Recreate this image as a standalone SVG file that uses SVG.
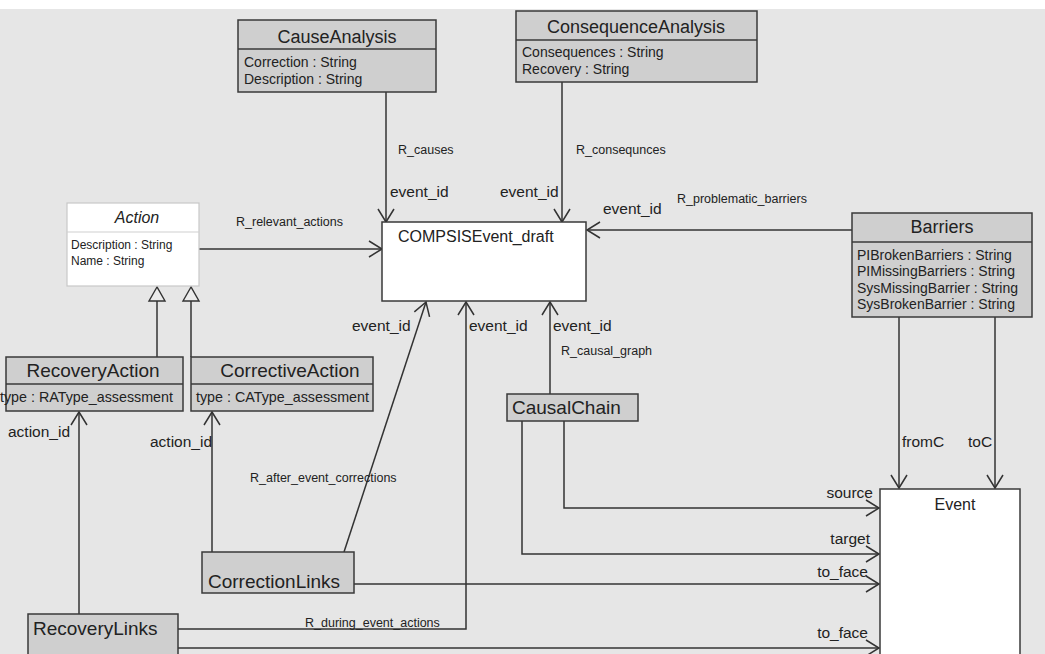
<svg xmlns="http://www.w3.org/2000/svg" width="1045" height="654" viewBox="0 0 1045 654">
  <style>
    .box { fill: #cfcfcf; stroke: #3a3a3a; stroke-width: 1.5; }
    .wbox { fill: #ffffff; stroke: #3a3a3a; stroke-width: 1.5; }
    .abox { fill: #ffffff; stroke: #c8c8c8; stroke-width: 1.2; }
    .sep { stroke: #3a3a3a; stroke-width: 1.5; }
    .asep { stroke: #d0d0d0; stroke-width: 1.2; }
    text { font-family: "Liberation Sans", Arial, sans-serif; fill: #222; }
    .hdr { font-size: 18px; text-anchor: middle; }
    .attr { font-size: 14px; }
    .name { font-size: 19px; }
    .role { font-size: 15.5px; }
    .rel { font-size: 12.5px; }
    .edge { fill: none; stroke: #333; stroke-width: 1.5; }
    .tri { fill: #ececec; stroke: #333; stroke-width: 1.4; }
  </style>
  <defs>
    <marker id="open" markerUnits="userSpaceOnUse" orient="auto" overflow="visible" markerWidth="1" markerHeight="1" refX="0" refY="0">
      <path d="M-13,-8 L0,0 L-13,8" fill="none" stroke="#333" stroke-width="1.5"/>
    </marker>
  </defs>

  <!-- canvas -->
  <rect x="0" y="0" width="1045" height="654" fill="#ffffff"/>
  <rect x="0" y="9" width="1045" height="645" fill="#e6e6e6"/>

  <!-- connectors -->
  <g id="connectors">
    <path class="edge" d="M386,92 V222" marker-end="url(#open)"/>
    <path class="edge" d="M562,82 V222" marker-end="url(#open)"/>
    <path class="edge" d="M852,230 H587" marker-end="url(#open)"/>
    <path class="edge" d="M199,249 H382" marker-end="url(#open)"/>
    <path class="edge" d="M344,552 L426,302" marker-end="url(#open)"/>
    <path class="edge" d="M178,629 H466 V302" marker-end="url(#open)"/>
    <path class="edge" d="M550,394 V302" marker-end="url(#open)"/>
    <path class="edge" d="M157,357 V301"/>
    <path class="edge" d="M191,357 V301"/>
    <polygon class="tri" points="157,287 149,301 165,301"/>
    <polygon class="tri" points="191,287 183,301 199,301"/>
    <path class="edge" d="M79,614 V412" marker-end="url(#open)"/>
    <path class="edge" d="M212,552 V412" marker-end="url(#open)"/>
    <path class="edge" d="M899,317 V488" marker-end="url(#open)"/>
    <path class="edge" d="M995,317 V488" marker-end="url(#open)"/>
    <path class="edge" d="M564,421 V508 H879" marker-end="url(#open)"/>
    <path class="edge" d="M522,421 V554 H879" marker-end="url(#open)"/>
    <path class="edge" d="M354,584 H879" marker-end="url(#open)"/>
    <path class="edge" d="M178,648 H879" marker-end="url(#open)"/>

    <text class="rel" x="398" y="154">R_causes</text>
    <text class="role" x="390" y="197">event_id</text>
    <text class="rel" x="576" y="154">R_consequnces</text>
    <text class="role" x="500" y="197">event_id</text>
    <text class="rel" x="677" y="203">R_problematic_barriers</text>
    <text class="role" x="603" y="214">event_id</text>
    <text class="rel" x="236" y="226">R_relevant_actions</text>
    <text class="role" x="352" y="331">event_id</text>
    <text class="role" x="469" y="331">event_id</text>
    <text class="role" x="553" y="331">event_id</text>
    <text class="rel" x="561" y="355">R_causal_graph</text>
    <text class="role" x="8" y="437">action_id</text>
    <text class="role" x="150" y="447">action_id</text>
    <text class="rel" x="250" y="482">R_after_event_corrections</text>
    <text class="rel" x="305" y="627">R_during_event_actions</text>
    <text class="role" x="902" y="447">fromC</text>
    <text class="role" x="968" y="447">toC</text>
    <text class="role" x="873" y="498" text-anchor="end">source</text>
    <text class="role" x="870" y="544" text-anchor="end">target</text>
    <text class="role" x="868" y="577" text-anchor="end">to_face</text>
    <text class="role" x="868" y="638" text-anchor="end">to_face</text>
  </g>

  <g id="CauseAnalysis">
    <rect class="box" x="238" y="20" width="198" height="72"/>
    <line class="sep" x1="238" y1="49" x2="436" y2="49"/>
    <text class="hdr" x="337" y="43">CauseAnalysis</text>
    <text class="attr" x="244" y="67">Correction : String</text>
    <text class="attr" x="244" y="84">Description : String</text>
  </g>

  <g id="ConsequenceAnalysis">
    <rect class="box" x="516" y="11" width="241" height="71"/>
    <line class="sep" x1="516" y1="40" x2="757" y2="40"/>
    <text class="hdr" x="636" y="33">ConsequenceAnalysis</text>
    <text class="attr" x="522" y="57">Consequences : String</text>
    <text class="attr" x="522" y="74">Recovery : String</text>
  </g>

  <g id="COMPSISEvent_draft">
    <rect class="wbox" x="382" y="222" width="204" height="79"/>
    <text x="398" y="242" font-size="16">COMPSISEvent_draft</text>
  </g>

  <g id="Action">
    <rect class="abox" x="67" y="203" width="132" height="83"/>
    <line class="asep" x1="67" y1="232" x2="199" y2="232"/>
    <text x="137" y="223" font-size="16" font-style="italic" text-anchor="middle">Action</text>
    <text x="71" y="249" font-size="12">Description : String</text>
    <text x="71" y="265" font-size="12">Name : String</text>
  </g>

  <g id="Barriers">
    <rect class="box" x="852" y="213" width="180" height="104"/>
    <line class="sep" x1="852" y1="242" x2="1032" y2="242"/>
    <text class="hdr" x="942" y="233">Barriers</text>
    <text class="attr" x="857" y="260">PIBrokenBarriers : String</text>
    <text class="attr" x="857" y="276">PIMissingBarriers : String</text>
    <text class="attr" x="857" y="293">SysMissingBarrier : String</text>
    <text class="attr" x="857" y="309">SysBrokenBarrier : String</text>
  </g>

  <g id="RecoveryAction">
    <rect class="box" x="6" y="357" width="177" height="54"/>
    <line class="sep" x1="6" y1="384" x2="183" y2="384"/>
    <text class="name" x="93" y="377" text-anchor="middle">RecoveryAction</text>
    <text x="0" y="402" font-size="14.3">type : RAType_assessment</text>
  </g>

  <g id="CorrectiveAction">
    <rect class="box" x="191" y="357" width="182" height="54"/>
    <line class="sep" x1="191" y1="384" x2="373" y2="384"/>
    <text class="name" x="290" y="377" text-anchor="middle">CorrectiveAction</text>
    <text x="196" y="402" font-size="14.3">type : CAType_assessment</text>
  </g>

  <g id="CausalChain">
    <rect class="box" x="507" y="394" width="131" height="27"/>
    <text class="name" x="512" y="414">CausalChain</text>
  </g>

  <g id="CorrectionLinks">
    <rect class="box" x="202" y="552" width="152" height="41"/>
    <text class="name" x="208" y="588">CorrectionLinks</text>
  </g>

  <g id="RecoveryLinks">
    <rect class="box" x="28" y="614" width="150" height="50"/>
    <text class="name" x="33" y="635">RecoveryLinks</text>
  </g>

  <g id="Event">
    <rect class="wbox" x="880" y="489" width="140" height="175"/>
    <text x="955" y="510" font-size="16" text-anchor="middle">Event</text>
  </g>
</svg>
